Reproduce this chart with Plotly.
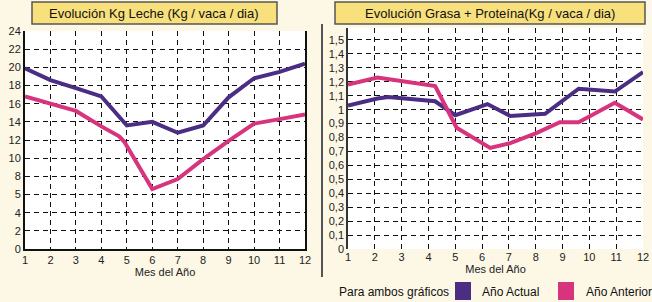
import plotly.graph_objects as go

W, H = 652, 302

# Left chart: Kg Leche
leche_x_actual = [1, 2, 3, 4, 5, 6, 7, 8, 9, 10, 11, 12]
leche_actual = [19.9, 18.6, 17.7, 16.8, 13.6, 14.0, 12.8, 13.6, 16.7, 18.8, 19.5, 20.4]
leche_x_anterior = [1, 2, 3, 4, 4.7, 4.9, 6, 7, 8, 9, 10, 11, 12]
leche_anterior = [16.8, 16.0, 15.2, 13.5, 12.4, 11.8, 6.6, 7.7, 9.9, 11.9, 13.8, 14.3, 14.8]
leche_yticks = [0, 2, 4, 6, 8, 10, 12, 14, 16, 18, 20, 22, 24]
leche_yticktext = ["0", "2", "4", "5", "8", "10", "12", "14", "16", "18", "20", "22", "24"]

# Right chart: Grasa + Proteína
gp_x_actual = [1, 2.1, 2.5, 4.25, 5.0, 6.2, 7.05, 8.35, 9.6, 10.95, 12]
gp_actual = [1.03, 1.08, 1.09, 1.06, 0.96, 1.04, 0.955, 0.97, 1.15, 1.13, 1.27]
gp_x_anterior = [1, 2.1, 4.25, 5.05, 6.3, 7.05, 8.0, 8.9, 9.6, 10.95, 12]
gp_anterior = [1.18, 1.23, 1.17, 0.87, 0.725, 0.76, 0.83, 0.91, 0.91, 1.05, 0.93]
gp_yticks = [round(i * 0.1, 1) for i in range(16)]
gp_yticktext = ["0"] + [f"{v:.1f}".replace(".", ",") if v != 1.0 else "1" for v in gp_yticks[1:]]

months = list(range(1, 13))

C_ACT = "#4B2D84"
C_ANT = "#D8347E"
BG = "#FDF8E6"
FONT = "Liberation Sans Narrow, Liberation Sans, Arial"

def px(x):
    return x / W

def py(y):
    return 1 - y / H

fig = go.Figure()
fig.add_trace(go.Scatter(x=leche_x_actual, y=leche_actual, mode="lines",
                         line=dict(color=C_ACT, width=4), xaxis="x", yaxis="y", showlegend=False))
fig.add_trace(go.Scatter(x=leche_x_anterior, y=leche_anterior, mode="lines",
                         line=dict(color=C_ANT, width=4), xaxis="x", yaxis="y", showlegend=False))
fig.add_trace(go.Scatter(x=gp_x_actual, y=gp_actual, mode="lines",
                         line=dict(color=C_ACT, width=4), xaxis="x2", yaxis="y2", showlegend=False))
fig.add_trace(go.Scatter(x=gp_x_anterior, y=gp_anterior, mode="lines",
                         line=dict(color=C_ANT, width=4), xaxis="x2", yaxis="y2", showlegend=False))

grid = dict(showgrid=True, gridcolor="#111", gridwidth=1, griddash="5px,4px", automargin=False,
            zeroline=False, ticks="", tickfont=dict(family=FONT, size=11, color="#222"))

fig.update_layout(
    width=W, height=H, margin=dict(l=0, r=0, t=0, b=0, autoexpand=False),
    paper_bgcolor=BG, plot_bgcolor="white",
    xaxis=dict(domain=[px(25), px(305)], range=[1, 12], tickvals=months, anchor="y",
               showline=True, linecolor="#111", linewidth=2,
               title=dict(text="Mes del Año", font=dict(family=FONT, size=11, color="#222"), standoff=2),
               **grid),
    yaxis=dict(domain=[py(249), py(31)], range=[0, 24], tickvals=leche_yticks, ticktext=leche_yticktext,
               anchor="x", showline=True, mirror=True, linecolor="#111", linewidth=2, **grid),
    xaxis2=dict(domain=[px(348), px(643)], range=[1, 12], tickvals=months, anchor="y2",
                showline=False,
                title=dict(text="Mes del Año", font=dict(family=FONT, size=11, color="#222"), standoff=2),
                **grid),
    yaxis2=dict(domain=[py(249), py(28)], range=[0, 1.586], tickvals=gp_yticks, ticktext=gp_yticktext,
                anchor="x2", showline=True, linecolor="#333", linewidth=1.5, **grid),
)

shapes = [
    # title boxes
    dict(type="rect", xref="paper", yref="paper", x0=px(32), x1=px(277), y0=py(24), y1=py(2),
         fillcolor="#F8E07C", line=dict(color="#555", width=1.5), layer="above"),
    dict(type="rect", xref="paper", yref="paper", x0=px(335), x1=px(645), y0=py(24), y1=py(2),
         fillcolor="#F8E07C", line=dict(color="#555", width=1.5), layer="above"),
    # separator
    dict(type="line", xref="paper", yref="paper", x0=px(322), x1=px(322), y0=py(24), y1=py(277),
         line=dict(color="#555", width=2)),
    # legend squares
    dict(type="rect", xref="paper", yref="paper", x0=px(455), x1=px(471), y0=py(300), y1=py(282),
         fillcolor=C_ACT, line=dict(width=0)),
    dict(type="rect", xref="paper", yref="paper", x0=px(558), x1=px(574), y0=py(300), y1=py(282),
         fillcolor=C_ANT, line=dict(width=0)),
]
fig.update_layout(shapes=shapes)

TF = dict(family="Liberation Sans, Arial", size=13, color="#111")
LF = dict(family="Liberation Sans, Arial", size=12, color="#111")
annotations = [
    dict(text="Evolución Kg Leche (Kg / vaca / dia)", x=px(154), y=py(13), xref="paper", yref="paper",
         showarrow=False, font=TF, xanchor="center", yanchor="middle"),
    dict(text="Evolución Grasa + Proteína(Kg / vaca / dia)", x=px(490), y=py(13), xref="paper", yref="paper",
         showarrow=False, font=TF, xanchor="center", yanchor="middle"),
    dict(text="Para ambos gráficos", x=px(337), y=py(292), xref="paper", yref="paper",
         showarrow=False, font=LF, xanchor="left", yanchor="middle"),
    dict(text="Año Actual", x=px(480), y=py(292), xref="paper", yref="paper",
         showarrow=False, font=LF, xanchor="left", yanchor="middle"),
    dict(text="Año Anterior", x=px(584), y=py(292), xref="paper", yref="paper",
         showarrow=False, font=LF, xanchor="left", yanchor="middle"),
]
fig.update_layout(annotations=annotations)

fig.write_html("out.html", config={"displayModeBar": False},
               post_script="document.body.style.margin='0';document.body.style.overflow='hidden';")
